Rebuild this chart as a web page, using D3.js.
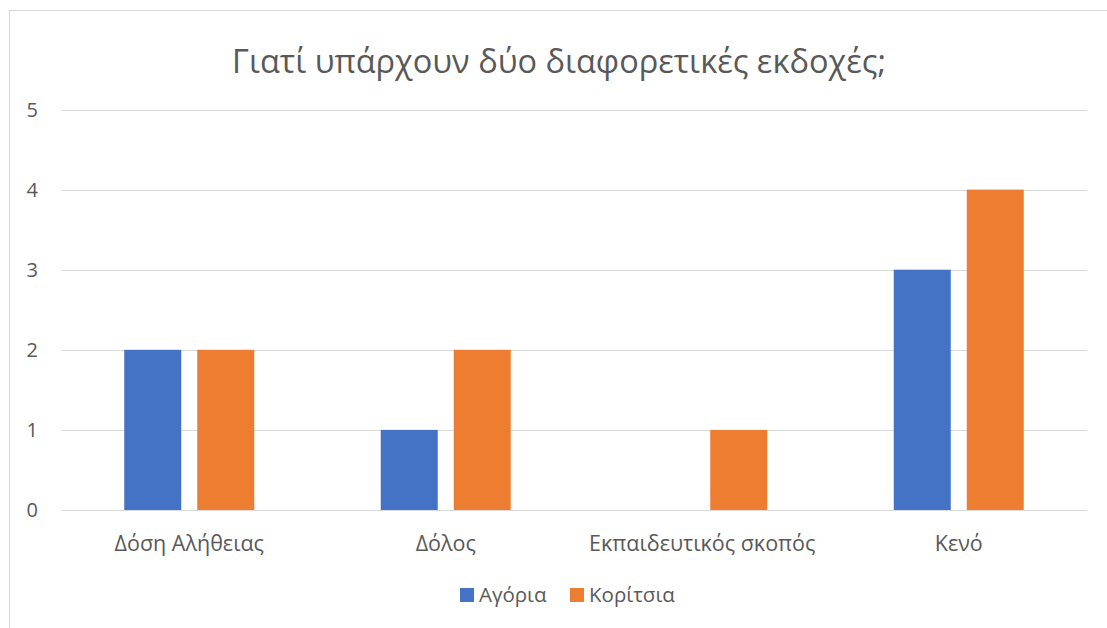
<!DOCTYPE html>
<html><head><meta charset="utf-8">
<script src="https://cdn.jsdelivr.net/npm/d3@7"></script>
<style>body{margin:0;background:#fff;} text{font-family:"Open Sans","Noto Sans",sans-serif;fill:#595959;}</style>
</head><body>
<svg id="c" width="1107" height="628"></svg>
<script>
const title = "Γιατί υπάρχουν δύο διαφορετικές εκδοχές;";
const categories = ["Δόση Αλήθειας", "Δόλος", "Εκπαιδευτικός σκοπός", "Κενό"];
const seriesNames = ["Αγόρια", "Κορίτσια"];
const boys = [2, 1, 0, 3];
const girls = [2, 2, 1, 4];
const yTicks = [0, 1, 2, 3, 4, 5];
const colors = ["#4472C4", "#ED7D31"];

const svg = d3.select("#c");
svg.append("rect").attr("x", 9.5).attr("y", 10.5).attr("width", 1110).attr("height", 640)
  .attr("fill", "#fff").attr("stroke", "#d9d9d9").attr("stroke-width", 1);

const pLeft = 61, pRight = 1087, pTop = 109.5, pBottom = 510;
const x = d3.scaleBand().domain(categories).range([pLeft, pRight]).paddingInner(0).paddingOuter(0);
const y = d3.scaleLinear().domain([0, 5]).range([pBottom, pTop]);
const barW = 57, gap = 16;

svg.append("text").attr("x", 559).attr("y", 73).attr("text-anchor", "middle")
  .style("font-size", "32.5px").text(title);

const grid = svg.append("g");
yTicks.forEach(t => {
  grid.append("line").attr("x1", pLeft).attr("x2", pRight).attr("y1", Math.round(y(t)) + 0.5).attr("y2", Math.round(y(t)) + 0.5)
    .attr("stroke", "#d9d9d9").attr("stroke-width", 1);
  svg.append("text").attr("x", 38).attr("y", y(t) + 7).attr("text-anchor", "end")
    .style("font-size", "20px").text(t);
});

const data = [boys, girls];
data.forEach((vals, si) => {
  svg.append("g").selectAll("rect").data(vals).join("rect")
    .attr("x", (d, i) => x(categories[i]) + x.bandwidth() / 2 + (si === 0 ? -(barW + gap / 2) : gap / 2))
    .attr("width", barW)
    .attr("y", d => y(d))
    .attr("height", d => y(0) - y(d))
    .attr("fill", colors[si]);
});

categories.forEach(c => {
  svg.append("text").attr("x", x(c) + x.bandwidth() / 2).attr("y", 551)
    .attr("text-anchor", "middle").style("font-size", "21.5px").text(c);
});

const legX = [460, 570];
seriesNames.forEach((s, i) => {
  svg.append("rect").attr("x", legX[i]).attr("y", 588).attr("width", 14).attr("height", 14).attr("fill", colors[i]);
  svg.append("text").attr("x", legX[i] + 19).attr("y", 602).style("font-size", "20.5px").text(s);
});
</script>
</body></html>
